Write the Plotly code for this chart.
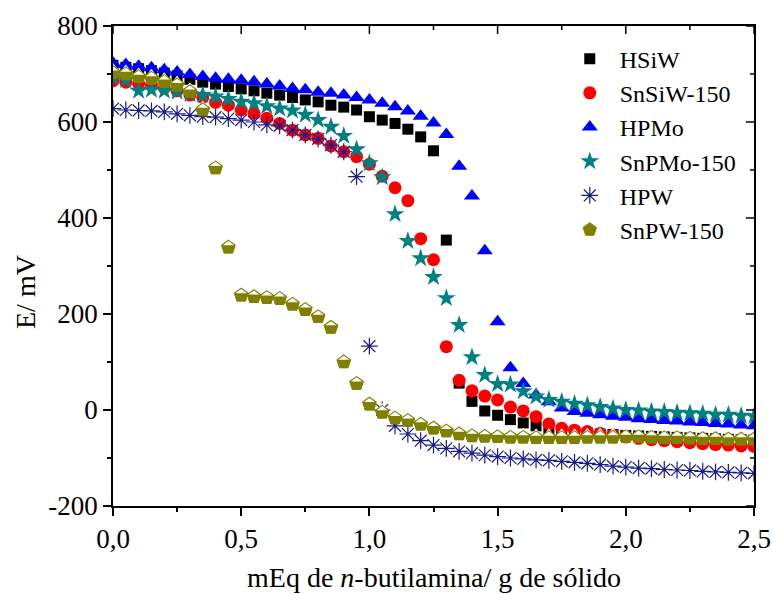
import plotly.graph_objects as go

# ---------------- data ----------------
x_meq = [0.0, 0.05, 0.1, 0.15, 0.2, 0.25, 0.3, 0.35, 0.4, 0.45,
         0.5, 0.55, 0.6, 0.65, 0.7, 0.75, 0.8, 0.85, 0.9, 0.95,
         1.0, 1.05, 1.1, 1.15, 1.2, 1.25, 1.3, 1.35, 1.4, 1.45,
         1.5, 1.55, 1.6, 1.65, 1.7, 1.75, 1.8, 1.85, 1.9, 1.95,
         2.0, 2.05, 2.1, 2.15, 2.2, 2.25, 2.3, 2.35, 2.4, 2.45,
         2.5]

hsiw = [718, 714, 711, 707, 702, 696, 689, 683, 679, 674,
        669, 665, 660, 656, 651, 646, 642, 635, 631, 625,
        611, 604, 597, 585, 569, 540, 354, 56, 18, -2,
        -11, -20, -27, -33, -39, -43, -46, -48, -50, -51,
        -53, -54, -55, -56, -57, -58, -59, -60, -61, -62,
        -63]

snsiw = [686, 683, 680, 677, 671, 665, 656, 651, 641, 635,
         625, 618, 608, 597, 583, 573, 566, 550, 538, 528,
         512, 487, 463, 436, 357, 313, 132, 62, 40, 29,
         21, 6, -2, -14, -29, -38, -42, -45, -49, -52,
         -56, -59, -62, -64, -66, -68, -70, -72, -73, -75,
         -76]

hpmo = [723, 720, 716, 713, 709, 704, 699, 695, 691, 689,
        687, 684, 679, 675, 670, 667, 662, 660, 656, 651,
        646, 639, 632, 623, 612, 598, 574, 508, 446, 332,
        184, 88, 55, 31, 17, 4, -3, -7, -10, -13,
        -15, -18, -20, -22, -23, -25, -26, -28, -29, -31,
        -33]

snpmo = [692, 687, 665, 667, 665, 663, 658, 656, 653, 648,
         642, 639, 633, 628, 624, 615, 604, 590, 571, 543,
         514, 485, 408, 352, 316, 277, 233, 177, 110, 73,
         54, 53, 39, 28, 21, 17, 13, 10, 6, 3,
         0, -1, -3, -4, -6, -7, -8, -10, -10, -12,
         -13]

hpw = [628, 625, 624, 623, 621, 617, 614, 611, 610, 607,
       604, 600, 594, 592, 583, 573, 565, 552, 538, 486,
       133, 0, -33, -50, -64, -73, -80, -86, -90, -94,
       -97, -100, -102, -104, -105, -107, -109, -111, -114, -117,
       -119, -121, -122, -124, -125, -126, -128, -129, -130, -131,
       -132]

snpw = [703, 700, 694, 691, 684, 677, 663, 625, 504, 339,
        239, 236, 234, 232, 220, 209, 194, 172, 100, 55,
        12, -5, -17, -22, -30, -38, -44, -50, -54, -55,
        -56, -57, -57, -58, -58, -58, -58, -57, -57, -57,
        -56, -56, -57, -58, -58, -59, -60, -60, -61, -61,
        -61]

series_names = ["HSiW", "SnSiW-150", "HPMo", "SnPMo-150", "HPW", "SnPW-150"]

x_range = [0, 2.5]
y_range = [-200, 800]
x_tickvals = [0.0, 0.5, 1.0, 1.5, 2.0, 2.5]
x_ticktext = ["0,0", "0,5", "1,0", "1,5", "2,0", "2,5"]
x_minorvals = [0.25, 0.75, 1.25, 1.75, 2.25]
y_tickvals = [-200, 0, 200, 400, 600, 800]
y_ticktext = ["-200", "0", "200", "400", "600", "800"]
y_minorvals = [-100, 100, 300, 500, 700]

x_title = "mEq de <i>n</i>-butilamina/ g de sólido"
y_title = "E/ mV"

FONT = "Liberation Serif"
OLIVE = "#808000"

fig = go.Figure()

fig.add_trace(go.Scatter(x=x_meq, y=hsiw, mode="markers", name=series_names[0],
                         marker=dict(symbol="square", size=11, color="black")))
fig.add_trace(go.Scatter(x=x_meq, y=snsiw, mode="markers", name=series_names[1],
                         marker=dict(symbol="circle", size=13, color="#FF0000")))
fig.add_trace(go.Scatter(x=x_meq, y=hpmo, mode="markers", name=series_names[2],
                         marker=dict(symbol="triangle-up", size=14, color="#0000FF")))
fig.add_trace(go.Scatter(x=x_meq, y=snpmo, mode="markers", name=series_names[3],
                         marker=dict(symbol="star", size=14, color="#008080")))
fig.add_trace(go.Scatter(x=x_meq, y=hpw, mode="markers", name=series_names[4],
                         marker=dict(symbol="asterisk-open", size=14, color="#1a1a8c",
                                     line=dict(width=1.2, color="#1a1a8c"))))
# half-filled pentagon: olive body, white roof, olive outline
fig.add_trace(go.Scatter(x=x_meq, y=snpw, mode="markers", name=series_names[5],
                         legendgroup="snpw",
                         marker=dict(symbol="pentagon", size=14, color=OLIVE,
                                     line=dict(width=1, color=OLIVE))))
fig.add_trace(go.Scatter(x=x_meq, y=snpw, mode="markers", showlegend=False,
                         legendgroup="snpw", hoverinfo="skip",
                         marker=dict(symbol="triangle-down", size=9.8, color="white",
                                     angle=180, standoff=4.6,
                                     line=dict(width=0))))
fig.add_trace(go.Scatter(x=x_meq, y=snpw, mode="markers", showlegend=False,
                         legendgroup="snpw", hoverinfo="skip",
                         marker=dict(symbol="pentagon-open", size=14, color=OLIVE,
                                     line=dict(width=1.1, color=OLIVE))))

axis_common = dict(showline=True, linecolor="black", linewidth=1.5, mirror=True,
                   showgrid=False, zeroline=False, ticks="outside", ticklen=8,
                   tickwidth=1.5, tickcolor="black", automargin=False,
                   tickfont=dict(family=FONT, size=27, color="black"))

# inward-pointing ticks on the mirrored top and right axes
tick_shapes = []
for vals, length in ((x_tickvals, 8), (x_minorvals, 4)):
    for v in vals:
        tick_shapes.append(dict(type="line", xref="x", yref="paper", ysizemode="pixel",
                                yanchor=1, x0=v, x1=v, y0=0, y1=-length,
                                line=dict(color="black", width=1.5), layer="above"))
for vals, length in ((y_tickvals, 8), (y_minorvals, 4)):
    for v in vals:
        tick_shapes.append(dict(type="line", yref="y", xref="paper", xsizemode="pixel",
                                xanchor=1, y0=v, y1=v, x0=0, x1=-length,
                                line=dict(color="black", width=1.5), layer="above"))

fig.update_layout(
    width=773, height=594,
    margin=dict(l=113, r=19, t=26, b=88),
    paper_bgcolor="white", plot_bgcolor="white",
    font=dict(family=FONT, color="black"),
    showlegend=True,
    legend=dict(x=0.697, y=0.978, xanchor="left", yanchor="top",
                font=dict(family=FONT, size=24, color="black"),
                bgcolor="rgba(0,0,0,0)", borderwidth=0, itemwidth=50,
                tracegroupgap=0),
    xaxis=dict(range=x_range, tickmode="array", tickvals=x_tickvals, ticktext=x_ticktext,
               minor=dict(tickvals=x_minorvals, ticks="outside", ticklen=4,
                          tickwidth=1.5, tickcolor="black"),
               **axis_common),
    yaxis=dict(range=y_range, tickmode="array", tickvals=y_tickvals, ticktext=y_ticktext,
               minor=dict(tickvals=y_minorvals, ticks="outside", ticklen=4,
                          tickwidth=1.5, tickcolor="black"),
               **axis_common),
    shapes=tick_shapes,
    annotations=[
        dict(text=x_title, xref="paper", yref="paper", x=0.5, y=0, yshift=-71,
             xanchor="center", yanchor="middle", showarrow=False,
             font=dict(family=FONT, size=28, color="black")),
        dict(text=y_title, xref="paper", yref="paper", x=0, y=0.5, xshift=-88, yshift=-26,
             xanchor="center", yanchor="middle", textangle=-90, showarrow=False,
             font=dict(family=FONT, size=28, color="black")),
    ],
)

fig.write_html("out.html")
